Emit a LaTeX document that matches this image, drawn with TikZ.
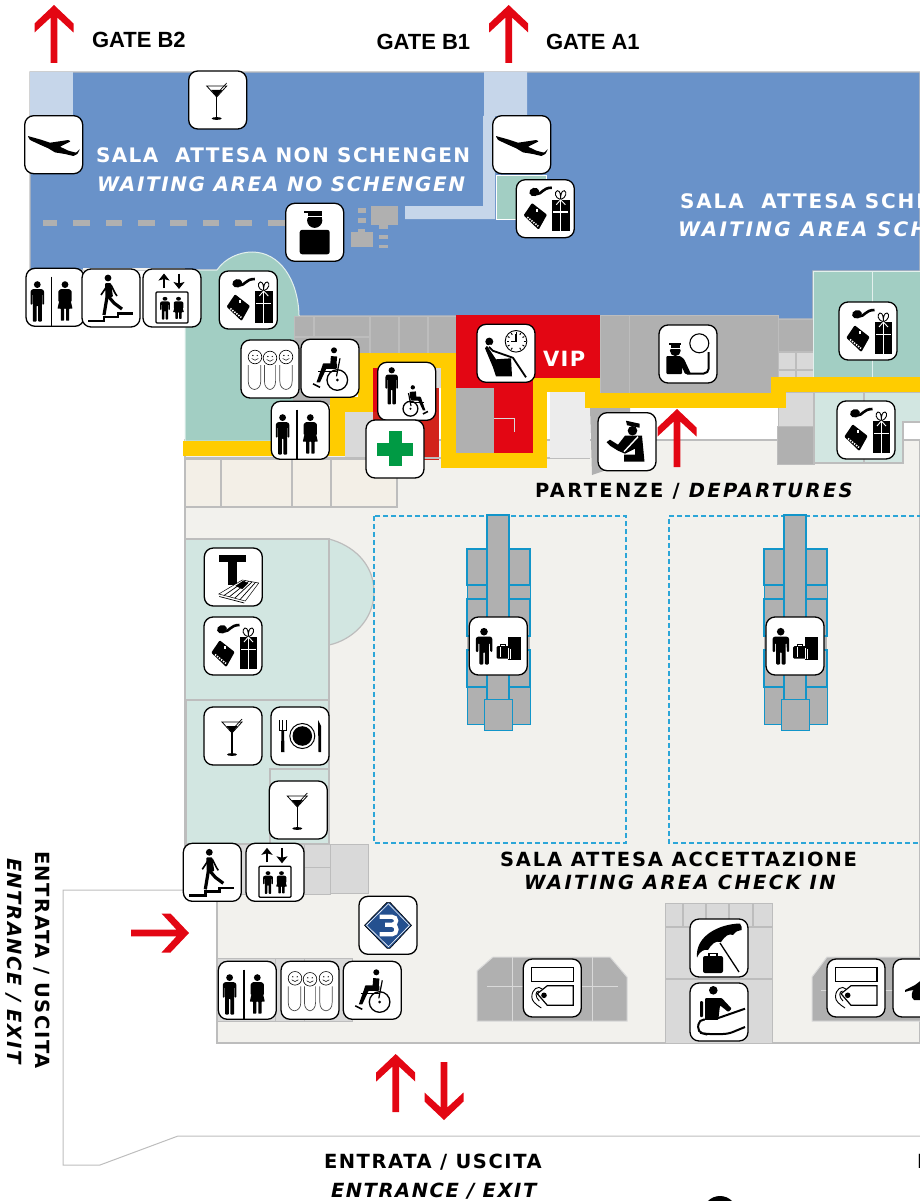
\documentclass[tikz,border=0pt]{standalone}
\usepackage{fontspec}
\setmainfont{DejaVu Sans}
\newfontfamily\lsA[LetterSpace=7]{DejaVu Sans}
\newfontfamily\lsD[LetterSpace=8]{DejaVu Sans}
\newfontfamily\lsB[LetterSpace=9.4]{DejaVu Sans}
\newfontfamily\lsC[LetterSpace=12]{DejaVu Sans}
\newfontfamily\arialb{Liberation Sans}
\definecolor{cblue}{HTML}{6992C9}
\definecolor{clight}{HTML}{C6D6EA}
\definecolor{cteal}{HTML}{A2CEC3}
\definecolor{cpale}{HTML}{D2E6E1}
\definecolor{cfloor}{HTML}{F2F1ED}
\definecolor{ctilef}{HTML}{F3EFE7}
\definecolor{cgray}{HTML}{B0B0B0}
\definecolor{cmid}{HTML}{D9D9D9}
\definecolor{cline}{HTML}{BDBDBD}
\definecolor{cred}{HTML}{E30613}
\definecolor{cred2}{HTML}{D2231B}
\definecolor{cyel}{HTML}{FFCC00}
\definecolor{cdash}{HTML}{2CA6D8}
\definecolor{cdesk}{HTML}{1295C9}
\definecolor{cgreen}{HTML}{009A44}
\definecolor{cdia}{HTML}{24508F}
\tikzset{
  tile/.style={draw=black,fill=white,line width=1.3pt,rounded corners=9pt,minimum size=58pt,inner sep=0pt,outer sep=0pt},
  wall/.style={draw=cline,line width=1.2pt},
  blk/.style={draw=cline,fill=cgray,line width=1pt},
  midc/.style={draw=cline,fill=cmid,line width=1pt},
  deskc/.style={draw=cdesk,fill=cgray,line width=1.2pt},
  route/.style={draw=cyel,line width=14.5pt,line join=miter},
  lab/.style={inner sep=0pt,outer sep=0pt,anchor=base west},
  sala/.style={lab,font=\lsA\bfseries\fontsize{20}{22}\selectfont},
  salb/.style={lab,font=\lsD\bfseries\itshape\fontsize{20}{22}\selectfont},
  gatel/.style={lab,font=\arialb\bfseries\fontsize{22}{24}\selectfont},
  pics/redarrow/.style={code={\fill[cred] (0,0)--(19.5,18.5)--(19.5,27.5)--(3.3,12.5)--(3.3,#1)--(-3.3,#1)--(-3.3,12.5)--(-19.5,27.5)--(-19.5,18.5)--cycle;}},
  pics/icman/.style={code={
    \fill (0,0) circle (3.4);
    \fill[rounded corners=.8pt] (-5,4.6)--(5,4.6)--(6.8,6.5)--(6.8,20)--(5,20)--(5,9.5)--(4.5,9.5)--(4.5,37)--(.8,37)--(.8,21)--(-.8,21)--(-.8,37)--(-4.5,37)--(-4.5,9.5)--(-5,9.5)--(-5,20)--(-6.8,20)--(-6.8,6.5)--cycle;}},
  pics/icwoman/.style={code={
    \fill (0,0) circle (3.4);
    \fill[rounded corners=.5pt] (-4.5,4.6)--(4.5,4.6)--(6.6,6.5)--(6.6,17)--(5,17)--(4.3,10)--(7.5,24)--(4.2,24)--(4.2,36)--(1,36)--(1,24)--(-1,24)--(-1,36)--(-4.2,36)--(-4.2,24)--(-7.5,24)--(-4.3,10)--(-5,17)--(-6.6,17)--(-6.6,6.5)--cycle;}},
  pics/icwc/.style={code={
    \pic at (-17.7,-12.7) {icman};
    \pic at (10,-12.7) {icwoman};
    \draw[line width=1.2pt] (-3.3,-20.7)--(-3.3,28.3);}},
  pics/icplane/.style={code={
    \fill[rounded corners=.6pt] (-26,-8.7)--(-13.7,-5.3)--(-3.7,-2)--(14.7,-4.7)--(17,-3.3)--(6.3,2)--(14.7,6)--(22.3,8)--(26.3,4.3)--(23.7,9.3)--(19.7,11.3)--(11.3,9.3)--(1.3,7.7)--(-5.3,3.7)--(-14.3,-.3)--(-23.7,-4.7)--cycle;}},
  pics/icmartini/.style={code={
    \draw[line width=.8pt] (-11,-14)--(9,-14)--(-1,-3)--cycle;
    \fill (-6.5,-10)--(4.5,-10)--(-1,-3)--cycle;
    \draw[line width=.7pt] (-1,-6)--(9,-17);
    \draw[line width=1.2pt] (-1,-3)--(-1,18);
    \fill (-1,18.5) ellipse (5 and 1.4);}},
  pics/icshop/.style={code={
    \fill[rotate around={15:(-11,-16.7)}] (-11,-16.7) ellipse (5 and 4.2);
    \draw[line width=2.6pt] (-9,-14.5) .. controls (-3,-14.5) and (-3,-21) .. (6.5,-21);
    \fill[rounded corners=1pt] (-13.3,-5.7)--(1.7,6)--(-6.7,21)--(-21.7,6.7)--cycle;
    \fill[white] (-9.5,0) rectangle ++(2,3);
    \draw[white,line width=1.6pt,dash pattern=on 1.4pt off 1.2pt] (-18,8.5)--(-7,17.5);
    \fill (6.7,-9) rectangle (24.3,22.7);
    \draw[white,line width=1.5pt] (15.3,-9)--(15.3,22.7) (8,3.3)--(23,3.3);
    \draw[fill=white,line width=.9pt] (15.3,-9) .. controls (9,-11) and (9,-17) .. (12,-18) .. controls (15,-18) and (15.3,-14) .. (15.3,-9) .. controls (15.3,-14) and (16,-18) .. (19,-18) .. controls (22,-17) and (21,-11) .. (15.3,-9);
    \draw[white,line width=.9pt] (15.3,-9)--(11,-4) (15.3,-9)--(20,-4);}},
  pics/icofficer/.style={code={
    \fill (-11,-21.5) rectangle (7,-19.5);
    \fill (-7,-19.5) rectangle (7,-16);
    \fill (0,-12) circle (7.6);
    \fill[white] (-8,-16)--(8,-16)--(8,-14.5)--(-8,-14.5)--cycle;
    \fill (-7,-15) rectangle (7,-12);
    \fill[rounded corners=2.5pt] (-15,-2.5) rectangle (15,22);}},
  pics/icwheel/.style={code={
    \fill (4,-18) circle (3);
    \draw[line width=6.2pt] (4,-12)--(3.3,-3);
    \fill[rounded corners=1pt] (-7.5,-5) rectangle (7,0.5);
    \draw[line width=1.2pt] (10,-10)--(6.5,8);
    \draw[line width=1.2pt] (-11.7,3.3)--(8,3.3);
    \fill (-7.5,-3)--(-3,-1)--(-10,14)--(-13.5,14)--cycle;
    \draw[line width=1.6pt] (-17,15.5)--(-10,19);
    \draw[line width=1.3pt] (7.3,11.7) circle (10.3);
    \fill (7.3,11.7) circle (1.5);}},
  pics/icstairs/.style={code={
    \fill (-3,-20) circle (3.4);
    \draw[line width=1.6pt] (-10,-3)--(-4,-12) (0,-13)--(4,-5)--(6,-2);
    \fill[rounded corners=1pt] (-6,-15)--(0,-15)--(2,-1)--(-.5,-1)--(-1,0)--(-5.5,0)--cycle;
    \draw[line width=3.2pt] (-4,-1)--(-7,17);
    \draw[line width=3.2pt] (-3,-2)--(3,5)--(11,11);
    \draw[line width=2.6pt] (-23,23)--(-7,23)--(-7,19)--(7,19)--(7,15.5)--(22,15.5);}},
  pics/iclift/.style={code={
    \draw[line width=2.4pt,-{Stealth[length=7pt,width=11pt,inset=1.5pt]}] (-8,-10)--(-8,-24.5);
    \draw[line width=2.4pt,-{Stealth[length=7pt,width=11pt,inset=1.5pt]}] (7,-24.5)--(7,-9);
    \draw[line width=1.2pt,rounded corners=1pt] (-16,-6) rectangle (16,25);
    \pic[xscale=.72,yscale=.56] at (-7,0.8) {icman};
    \pic[xscale=.72,yscale=.56] at (6.5,0.8) {icwoman};}},
  pics/icfamily/.style={code={
    \foreach \x/\y in {-15/-12,0/-11,16/-12}{
      \draw[line width=.6pt,fill=white] (\x,\y) circle (6.8);
      \fill (\x-2.2,\y-1.5) circle (.7) (\x+2.2,\y-1.5) circle (.7);
      \draw[line width=.5pt] (\x-3.3,\y+1.5) .. controls (\x-1.5,\y+3.8) and (\x+1.5,\y+3.8) .. (\x+3.3,\y+1.5);}
    \foreach \x/\w in {-15.5/6.3,0/5.6,16/6.2}{
      \draw[draw=black!70,line width=.7pt] (\x-\w,-4)--(\x-\w,12) .. controls (\x-\w,18) and (\x-\w+3,20) .. (\x,20.5) .. controls (\x+\w-3,20) and (\x+\w,18) .. (\x+\w,12)--(\x+\w,-4);}}},
  pics/icmanwheel/.style={code={
    \pic[scale=.92] at (-15,-21) {icman};
    \pic[xscale=-.72,yscale=.72] at (9,9) {icwheel};}},
  pics/iccross/.style={code={
    \fill[cgreen] (-6.3,-18) rectangle (6.7,17.3);
    \fill[cgreen] (-18,-6) rectangle (18,6.6);}},
  pics/icvip/.style={code={
    \fill (-16.7,-11.7) circle (4);
    \fill (-21,-5)--(-19,-7.5)--(-10,6)--(5,5)--(6,23)--(-10,23)--(-13,14)--cycle;
    \draw[white,line width=2.8pt] (-17,-8)--(-13,-3)--(8,4)--(21,26);
    \draw[line width=1.8pt] (-17,-6.5)--(-13,-2.5)--(7,4.5)--(20,24);
    \draw[line width=.9pt] (10,-12) circle (10.8);
    \draw[line width=1.2pt] (10,-19)--(10,-12)--(4.5,-12);
    \foreach \a in {0,30,60,120,150,180,210,240,270,300,330}{\draw[line width=1pt] ($(10,-12)+(\a:7.5)$)--($(10,-12)+(\a:9.5)$);}}},
  pics/icpolice/.style={code={
    \fill (-12.7,-3.3) circle (5.4);
    \fill[white] (-20,-6.5) rectangle (-5,-5.5);
    \fill (-19,-10.7) rectangle (-7,-9);
    \fill (-17,-9) -- (-8,-9) -- (-8,-6.5) -- (-17,-6.5) -- cycle;
    \fill[rounded corners=1pt] (-21.7,2)--(-8,2)--(-4,5)--(3,20)--(-3,20)--(-6,13)--(-6,20)--(-21.7,20)--cycle;
    \draw[line width=1.1pt,fill=white] (11.3,-10.7) circle (9.5);
    \draw[line width=2pt,rounded corners=5pt] (20.7,-2)--(20.7,19.5)--(-1,19.5);}},
  pics/iccustoms/.style={code={
    \fill (-1,-21)--(12.7,-18)--(12.5,-14)--(0,-16.5)--cycle;
    \fill (5.5,-11) circle (4.8);
    \fill (-20.5,0.5)--(-17,-2)--(-9,3)--(-2,-6)--(15,-6)--(17.5,20)--(-3,20)--(-3,13)--(8,13)--(8,7)--(-2,12)--(-9,9)--(-17,4)--cycle;
    \draw[white,line width=1.4pt] (-3,10)--(11,-5);}},
  pics/icpress/.style={code={
    \fill (-14,-22) rectangle (12.7,-15);
    \fill (-5,-15) rectangle (3.3,8);
    \draw[line width=.5pt,fill=white] (-14.5,17)--(9,3)--(25.5,6)--(12,24)--cycle;
    \foreach \t in {.2,.4,.6,.8}{\draw[line width=.7pt] ($(-14.5,17)!\t!(12,24)$)--($(9,3)!\t!(25.5,6)$);}
    \fill (2,9)--(9.5,4)--(15,6)--(9,12)--cycle;
    \draw[line width=.7pt] (-14,19.5)--(11,26);}},
  pics/icplate/.style={code={
    \draw[line width=1pt] (-20.5,-16)--(-20.5,-6)--(-14,-6)--(-14,-16) (-17.2,-16)--(-17.2,-6);
    \fill (-18.5,-6) -- (-16,-6) -- (-15.5,16) -- (-19,16) -- cycle;
    \draw[line width=1pt] (2.3,0) circle (12.5);
    \fill (2.3,0) circle (9.8);
    \fill (18,-16)--(21,-10)--(21,16)--(18.5,16)--cycle;}},
  pics/icdesk/.style={code={
    \fill (-14.3,-14.3) circle (3.8);
    \fill[rounded corners=1pt] (-20.5,-9.5)--(-8,-9.5)--(-6,-8)--(-6,6)--(-8,6)--(-8.5,-3)--(-9.5,-3)--(-9.5,18.5)--(-13.5,18.5)--(-13.5,6)--(-15,6)--(-15,18.5)--(-19,18.5)--(-19,-3)--(-20,-3)--(-20,6)--(-22.5,6)--(-22.5,-8)--cycle;
    \fill[rounded corners=1.2pt] (-1.8,0.2) rectangle (11,12.7);
    \draw[line width=1pt] (2,0)--(2,-1.5)--(7,-1.5)--(7,0);
    \fill (10,-9) rectangle (23,14.3);
    \draw[white,line width=.7pt] (2,1)--(2,11) (10,2)--(10,13) (12.5,3)--(12.5,13);}},
  pics/ictag/.style={code={
    \draw[line width=1.2pt] (-20.7,-20.3) rectangle (21,-6.7);
    \draw[line width=1.2pt] (21,-2.3)--(-5,-2.3)--(-15,5.7)--(-5,17.3)--(21,17.3)--cycle;
    \fill (-8.3,7.3) circle (2.8);
    \draw[line width=.9pt] (-10,1) .. controls (-14,-3) and (-20.5,1) .. (-20.5,9) .. controls (-20.5,13) and (-17,16) .. (-11,20);
    \draw[line width=.9pt] (-13.5,3) .. controls (-17,3) and (-17.5,9) .. (-13,13);}},
  pics/icumbrella/.style={code={
    \fill (-22,9.5) .. controls (-24,-12) and (0,-24) .. (21,-24.5) .. controls (23,-22) and (23,-20) .. (22.5,-18) .. controls (19,-18) and (17,-16.5) .. (14,-13) .. controls (10,-15) and (6,-12) .. (2,-6) .. controls (-4,-8) and (-8,-3) .. (-11,2) .. controls (-15,1) and (-19,3) .. (-22,9.5) -- cycle;
    \draw[line width=1.3pt] (1,-5)--(20,24);
    \fill[rounded corners=2pt] (-16,8) rectangle (4,25);
    \draw[line width=1.2pt] (-10,8)--(-10,5.5)--(-2,5.5)--(-2,8);}},
  pics/icescal/.style={code={
    \fill (-5.7,-21.7) circle (4.3);
    \fill[rounded corners=1pt] (-14,-14)--(2.7,-14)--(12.7,-3.3)--(9.3,0)--(1,-6.7)--(-.7,8)--(-14,8)--cycle;
    \fill[rounded corners=1pt] (-19,-11) rectangle (-16,5);
    \draw[line width=2pt,rounded corners=5pt] (26,-3.3)--(-5,7.5)--(-20,7.5)--(-21.5,20)--(-14,22)--(9,22)--(26,15);
    \fill[white] (-14,8.2) rectangle (-.8,9.5);}},
  pics/icbus/.style={code={
    \draw[line width=.6pt,fill=cdia] (-23.5,0)--(-1,-23)--(2,-23)--(23.5,0)--(2,23)--(-1,23)--cycle;
    \draw[white,line width=.6pt] (-21.5,0)--(.5,-21.5)--(21.5,0)--(.5,21.5)--cycle;
    \draw[white,line width=4.2pt] (-8.5,-8.5)--(4,-8.5) .. controls (9.5,-8.5) and (9.5,-.5) .. (4,-.5)--(-3,-.5);
    \draw[white,line width=4.2pt] (4,-.5) .. controls (10,-.5) and (10,9) .. (4,9)--(-8.5,9);}},
  pics/icswoosh/.style={code={
    \fill (-17,2)--(-7,-3)--(-3,-6)--(1,-10) .. controls (2,-6) and (0,-2) .. (-2,4) .. controls (0,4) and (3,0) .. (8,-6)--(8,12)--(-8,12) .. controls (-12,10) and (-10,2) .. (-8,2) .. controls (-11,2) and (-14,3) .. (-17,4)--cycle;}},
  pics/deskblock/.style={code={
    \fill[cgray] (-31,-97) rectangle (32,78);
    \foreach \xa/\xb in {-31/-11,11/32}{
      \draw[deskc] (\xa,-97) rectangle (\xb,-61);
      \draw[draw=cdesk,line width=.8pt] (\xa,-61) rectangle (\xb,-47);
      \draw[deskc] (\xa,-47) rectangle (\xb,-10);
      \draw[deskc] (\xa,4) rectangle (\xb,41);
      \draw[draw=cdesk,fill=cgray,line width=.8pt] (\xa,41) rectangle (\xb,78);}
    \draw[deskc] (-11,-131) rectangle (11,54);
    \draw[draw=cdesk,fill=cgray,line width=1pt] (-14,53) rectangle (14,84);}},
}
\usetikzlibrary{arrows.meta,calc}
\begin{document}
\begin{tikzpicture}[x=1pt,y=-1pt]
\useasboundingbox (0,0) rectangle (920,1201);
\clip (0,0) rectangle (920,1201);
% outer entrance wall and floor
\draw[draw=cline,line width=1pt] (217,890)--(63,890)--(63,1165)--(100,1165)--(178,1136)--(920,1136);
\filldraw[fill=cfloor,wall] (185,440)--(920,440)--(920,1043)--(217,1043)--(217,894)--(185,894)--cycle;
% blue hall
\filldraw[fill=cblue,draw=cline,line width=1.2pt] (30,270)--(30,72)--(920,72)--(920,271)--(813,271)--(813,319)--(778,319)--(778,316)--(300,316)--(217,270)--cycle;
\fill[clight] (30,72) rectangle (73,116);
\fill[clight] (484,72)--(527,72)--(527,116)--(495,116)--(495,219)--(405,219)--(405,206)--(483,206)--(483,116)--(484,116)--cycle;
\filldraw[fill=cteal,draw=white,line width=.8pt] (496,175) rectangle (546,219);
% dashed barrier
\foreach \xa/\xb in {43/57,73/90,106/122,138/155,170/187,203/219,235/252,268/285}{\fill[cgray] (\xa,220) rectangle (\xb,226);}
\fill[cgray] (357.5,208) rectangle (366,212.5);
\fill[cgray] (357.5,218) rectangle (366,222.5);
\fill[cgray] (371,206) rectangle (398,225);
\fill[cgray] (379,225) rectangle (388,229);
\fill[cgray] (379,235) rectangle (388,239);
\fill[cgray] (379,245) rectangle (388,248);
\fill[cgray] (351,232) rectangle (373,247);
\fill[cgray] (358,228.5) rectangle (365,232);
% teal shops top left
\fill[cfloor] (83,268) rectangle (185,270);
\filldraw[fill=cteal,draw=white!70!cteal,line width=1pt] (185,270)--(217,270) .. controls (225,258) and (240,252) .. (252,252) .. controls (280,252) and (298,280) .. (299,315)--(299,441)--(185,441)--cycle;
% gray service blocks
\fill[cgray] (293,353) rectangle (331,405);
\filldraw[blk] (294,316) rectangle (313,336);
\filldraw[blk] (314,316) rectangle (369,336);
\filldraw[blk] (294,337) rectangle (369,354);
\filldraw[blk] (370,316) rectangle (398,354);
\filldraw[blk] (399,316) rectangle (427,354);
\filldraw[blk] (428,316) rectangle (456,354);
\fill[cmid] (345,412) rectangle (373,458);
\fill[cred2] (373,368) rectangle (439,460);
\fill[cred] (373,368) rectangle (380,412);
\fill[cmid] (436,368) rectangle (441,388);
% VIP
\fill[cred] (456,315)--(600,315)--(600,378)--(533,378)--(533,453)--(456,453)--cycle;
\fill[cgray] (456,388) rectangle (494,453);
\draw[draw=cmid,line width=1pt] (494,418)--(514,418)--(514,432);
\fill[cmid!50!white] (550,392) rectangle (590,458);
\draw[cline,line width=1pt] (550,458)--(590,458);
\fill[cgray] (590,408)--(630,408)--(630,462)--(592,475)--cycle;
\filldraw[blk] (600,315) rectangle (629,393);
\filldraw[blk] (629,315) rectangle (778,393);
\filldraw[blk] (778,319) rectangle (813,351);
\foreach \xa/\xb in {778/795,796/813}{\filldraw[draw=cline,fill=cmid,line width=.8pt] (\xa,352) rectangle (\xb,369); \filldraw[draw=cline,fill=cmid,line width=.8pt] (\xa,370) rectangle (\xb,384);}
\filldraw[midc] (778,392) rectangle (813,426);
\filldraw[blk] (777,426) rectangle (814,464);
% right shops
\filldraw[fill=cteal,draw=white!70!cteal,line width=1pt] (813,271) rectangle (922,378);
\draw[draw=white!70!cteal,line width=1pt] (872,271)--(872,378);
\filldraw[fill=cpale,wall] (814,392)--(922,392)--(922,422)--(903,422)--(903,463)--(814,463)--cycle;
\draw[wall] (864,392)--(864,463);
% beige rooms
\foreach \xa/\xb in {185/221,221.7/292,292/331,331/397}{\filldraw[fill=ctilef,wall] (\xa,459) rectangle (\xb,507);}
\draw[wall] (185,458)--(550,458);
% route
\draw[route] (183,448.5)--(337.5,448.5)--(337.5,404.5)--(365.5,404.5)--(365.5,360.5)--(448.5,360.5)--(448.5,460.5)--(540,460.5)--(540,385)--(592.5,385)--(592.5,400.5)--(778.5,400.5)--(778.5,384.5)--(925,384.5);
% newsstand and bar
\filldraw[fill=cpale,wall] (329,539) .. controls (352,545) and (374,563) .. (374,592) .. controls (374,620) and (352,640) .. (329,645)--cycle;
\filldraw[fill=cpale,wall] (185,539) rectangle (329,700);
\filldraw[fill=cpale,wall] (186,700) rectangle (329,844);
\draw[wall] (270,844)--(270,769)--(329,769);
% check-in zones
\draw[draw=cdash,line width=1.3pt,dash pattern=on 5pt off 3pt] (374,516) rectangle (626,843);
\draw[draw=cdash,line width=1.3pt,dash pattern=on 5pt off 3pt] (930,516)--(669,516)--(669,843)--(930,843);
\pic at (498,646) {deskblock};
\pic at (795,646) {deskblock};
% lower service blocks
\filldraw[midc] (186,844) rectangle (304,894);
\filldraw[midc] (304,844) rectangle (330,867);
\filldraw[midc] (304,867) rectangle (330,894);
\filldraw[midc] (330,844) rectangle (368,893);
\filldraw[midc] (217,958) rectangle (352,1021);
\draw[cline,line width=1pt] (275,958)--(275,1021) (304,958)--(304,1021);
\filldraw[blk,draw=cmid] (477,971)--(493,957)--(610,957)--(627,977)--(627,1021)--(477,1021)--cycle;
\draw[draw=cmid,line width=1pt] (512,957)--(512,1021) (592,957)--(592,1021) (487,986)--(618,986);
\filldraw[blk,draw=cmid] (812,977)--(827,957)--(925,957)--(925,1021)--(812,1021)--cycle;
\draw[draw=cmid,line width=1pt] (821,990)--(925,990);
\filldraw[midc] (665,903) rectangle (772,1043);
\draw[cline,line width=1.2pt] (665,927)--(773,927) (665,979)--(773,979) (683,903)--(683,927) (706,903)--(706,927) (729,903)--(729,927) (753,903)--(753,927);
% red arrows
\pic at (54,5) {redarrow=58};
\pic at (508.7,5) {redarrow=58};
\pic at (677,409) {redarrow=58};
\pic at (395.7,1054) {redarrow=58};
\pic[rotate=180] at (444,1120) {redarrow=58};
\pic[rotate=-90] at (189,933) {redarrow=58};
% labels
\node[gatel] (gB2) at (92,48) {GATE B2};
\node[gatel] (gB1) at (376.5,49.5) {GATE B1};
\node[gatel] (gA1) at (546,49.5) {GATE A1};
\node[sala,white] (nsA) at (96,163) {SALA\ \ ATTESA NON SCHENGEN};
\node[salb,white] (nsB) at (97,192) {WAITING AREA NO SCHENGEN};
\node[lab,white,font=\lsB\bfseries\fontsize{20}{22}\selectfont] (scA) at (680,208) {SALA\ \ ATTESA SCHENGEN};
\node[lab,white,font=\lsC\bfseries\itshape\fontsize{20}{22}\selectfont] (scB) at (678,236) {WAITING AREA SCHENGEN};
\node[lab,white,font=\lsA\bfseries\fontsize{21}{24}\selectfont] (vip) at (543,366) {VIP};
\node[lab,font=\lsC\bfseries\fontsize{19.5}{22}\selectfont] (dep) at (535,497) {PARTENZE / \textit{DEPARTURES}};
\node[lab,font=\lsB\bfseries\fontsize{19.5}{22}\selectfont] (wcA) at (500,866) {SALA ATTESA ACCETTAZIONE};
\node[lab,font=\lsC\bfseries\itshape\fontsize{19.5}{22}\selectfont] (wcB) at (524,889) {WAITING AREA CHECK IN};
\node[lab,font=\lsD\bfseries\fontsize{19.5}{22}\selectfont] (enA) at (324,1168) {ENTRATA / USCITA};
\node[lab,font=\lsD\bfseries\itshape\fontsize{19.5}{22}\selectfont] (enB) at (331,1197) {ENTRANCE / EXIT};
\node[lab,font=\lsD\bfseries\fontsize{19.5}{22}\selectfont] (enC) at (917,1168) {ENTRATA / USCITA};
\node[lab,rotate=-90,font=\lsD\bfseries\fontsize{19.5}{22}\selectfont] (enD) at (35,851) {ENTRATA / USCITA};
\node[lab,rotate=-90,font=\lsD\bfseries\itshape\fontsize{19.5}{22}\selectfont] (enE) at (7.5,858) {ENTRANCE / EXIT};
\fill (720,1213) circle (17);
% tiles
\node[tile] (tPlaneA) at (53.7,144.7) {}; \pic at (tPlaneA) {icplane};
\node[tile] (tPlaneB) at (521.7,144.7) {}; \pic at (tPlaneB) {icplane};
\node[tile] (tBarA) at (217.7,100) {}; \pic at (tBarA) {icmartini};
\node[tile] (tShopA) at (545.3,208.7) {}; \pic at (tShopA) {icshop};
\node[tile] (tOfficer) at (314.7,232.3) {}; \pic at (tOfficer) {icofficer};
\node[tile] (tWcA) at (55,297.3) {}; \pic at (tWcA) {icwc};
\node[tile] (tStairsA) at (111,298) {}; \pic at (tStairsA) {icstairs};
\node[tile] (tLiftA) at (172,298) {}; \pic at (tLiftA) {iclift};
\node[tile] (tShopB) at (248.3,300) {}; \pic at (tShopB) {icshop};
\node[tile] (tFamA) at (270,369) {}; \pic at (tFamA) {icfamily};
\node[tile] (tWheelA) at (330,368.3) {}; \pic at (tWheelA) {icwheel};
\node[tile] (tWcB) at (300.3,430.3) {}; \pic at (tWcB) {icwc};
\node[tile] (tManW) at (406.7,391.3) {}; \pic at (tManW) {icmanwheel};
\node[tile] (tCross) at (395,449) {}; \pic at (tCross) {iccross};
\node[tile] (tVip) at (506,353.3) {}; \pic at (tVip) {icvip};
\node[tile] (tPolice) at (688,354) {}; \pic at (tPolice) {icpolice};
\node[tile] (tCustoms) at (627,441.7) {}; \pic at (tCustoms) {iccustoms};
\node[tile] (tShopC) at (868,331) {}; \pic at (tShopC) {icshop};
\node[tile] (tShopD) at (866,430) {}; \pic at (tShopD) {icshop};
\node[tile] (tPress) at (233.3,577) {}; \pic at (tPress) {icpress};
\node[tile] (tShopE) at (233,646) {}; \pic at (tShopE) {icshop};
\node[tile] (tBarB) at (233,736) {}; \pic at (tBarB) {icmartini};
\node[tile] (tPlate) at (300,736) {}; \pic at (tPlate) {icplate};
\node[tile] (tBarC) at (298.3,810) {}; \pic at (tBarC) {icmartini};
\node[tile] (tDeskA) at (498.3,646) {}; \pic at (tDeskA) {icdesk};
\node[tile] (tDeskB) at (795,646) {}; \pic at (tDeskB) {icdesk};
\node[tile] (tStairsB) at (212.3,872.3) {}; \pic at (tStairsB) {icstairs};
\node[tile] (tLiftB) at (275,872.3) {}; \pic at (tLiftB) {iclift};
\node[tile] (tBus) at (388,925.3) {}; \pic at (tBus) {icbus};
\node[tile] (tWcC) at (247.3,990.3) {}; \pic at (tWcC) {icwc};
\node[tile] (tFamB) at (310,990.3) {}; \pic at (tFamB) {icfamily};
\node[tile] (tWheelB) at (372.3,990.3) {}; \pic at (tWheelB) {icwheel};
\node[tile] (tTagA) at (552.3,988) {}; \pic at (tTagA) {ictag};
\node[tile] (tUmb) at (719,948) {}; \pic at (tUmb) {icumbrella};
\node[tile] (tEsc) at (719,1012) {}; \pic at (tEsc) {icescal};
\node[tile] (tTagB) at (856,988) {}; \pic at (tTagB) {ictag};
\node[tile] (tLast) at (922,988) {}; \pic at (tLast) {icswoosh};
\end{tikzpicture}
\end{document}
